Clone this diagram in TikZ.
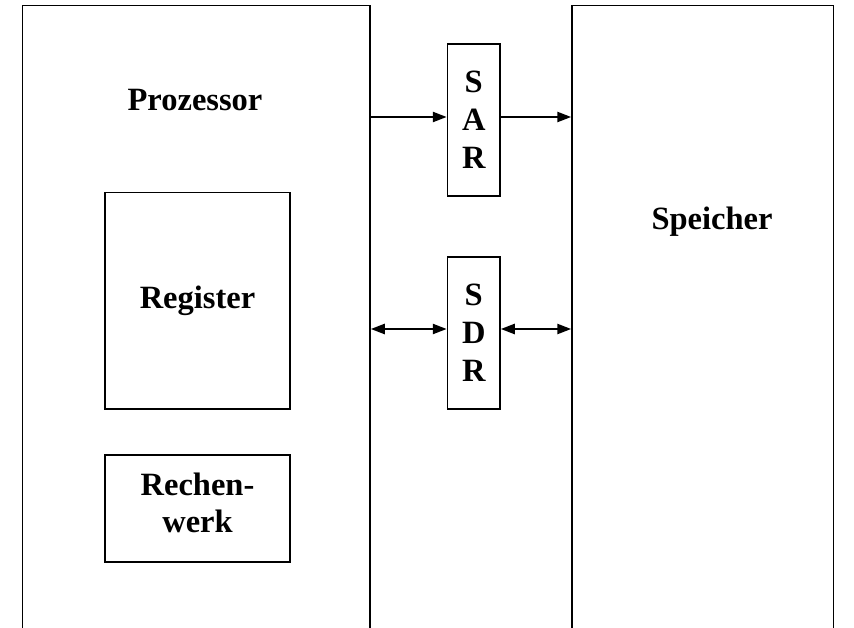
\documentclass[tikz,border=0pt]{standalone}
\usepackage{fontspec}
\setmainfont{Liberation Serif}
\usetikzlibrary{arrows.meta}
\begin{document}
\begin{tikzpicture}[x=1pt,y=-1pt,
  unit/.style={draw=black, line width=1.5pt, rectangle, inner sep=0pt, align=center,
    font=\fontsize{32.5}{38}\selectfont\bfseries},
  label/.style={inner sep=0pt, align=center, font=\fontsize{32.5}{37}\selectfont\bfseries},
  tip/.tip={Triangle[length=14pt,width=10pt]},
  bus/.style={line width=2.4pt, -tip},
  dbus/.style={line width=2.4pt, tip-tip}]
  \clip (0,0) rectangle (854,628);
  \fill[white] (0,0) rectangle (854,628);

  % Prozessor and Speicher, both running past the lower edge
  \node[unit, minimum width=347.5, minimum height=660] (proc) at (196.25,335.5) {};
  \node[unit, minimum width=261.5, minimum height=660] (mem) at (702.75,335.5) {};
  \node[label] (proctext) at (195,100) {Prozessor};
  \node[label] (memtext) at (712,222) {Speicher};

  % inside the processor
  \node[unit, minimum width=185, minimum height=216.5] (reg) at (197.5,300.75) {Register};
  \node[unit, minimum width=185, minimum height=107] (alu) at (197.5,508.5) {};
  \node[label] (alutext) at (197.5,503) {Rechen-\\werk};

  % address and data registers
  \node[unit, minimum width=52.5, minimum height=152] (sar) at (473.75,120) {S\\A\\R};
  \node[unit, minimum width=52.5, minimum height=152] (sdr) at (473.75,333) {S\\D\\R};

  % buses
  \draw[bus] ([yshift=3pt]sar.west -| proc.east) -- ([yshift=3pt]sar.west);
  \draw[bus] ([yshift=3pt]sar.east) -- ([yshift=3pt]sar.east -| mem.west);
  \draw[dbus] ([yshift=4pt]sdr.west -| proc.east) -- ([yshift=4pt]sdr.west);
  \draw[dbus] ([yshift=4pt]sdr.east) -- ([yshift=4pt]sdr.east -| mem.west);
\end{tikzpicture}
\end{document}
